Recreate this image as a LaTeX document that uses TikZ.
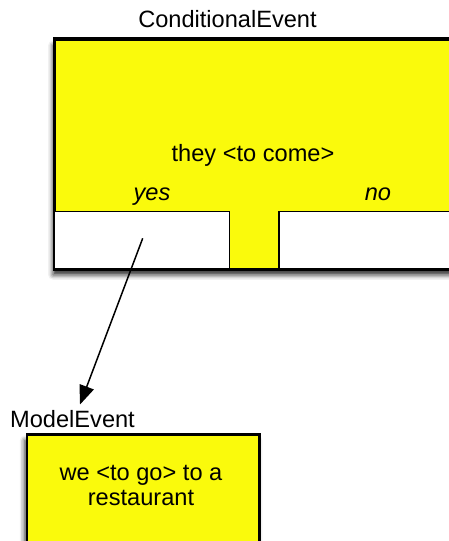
\documentclass[tikz,border=0pt]{standalone}
\usepackage{fontspec}
\setmainfont{Liberation Sans}
\usetikzlibrary{arrows.meta,shadows.blur}
\definecolor{evyellow}{RGB}{250,250,12}
\tikzset{
  txt/.style={inner sep=0pt,font=\fontsize{23.6}{25}\selectfont},
  itxt/.style={txt,font=\fontsize{23.6}{25}\selectfont\itshape},
  evbox/.style={fill=evyellow,draw=black,line width=2.2pt,inner sep=0pt,
     blur shadow={shadow xshift=-2pt,shadow yshift=-6pt,shadow blur radius=5pt,shadow opacity=85}},
  wbox/.style={fill=white,draw=black,line width=1.4pt,inner sep=0pt},
  conn/.style={line width=1.5pt,-{Triangle[length=19pt,width=15pt]}}
}
\begin{document}
\begin{tikzpicture}[x=1pt,y=-1pt]
\useasboundingbox (0,0) rectangle (448,541);
% conditional event
\node[evbox,anchor=north west,minimum width=430pt,minimum height=229.4pt] (cond) at (54,38.3) {};
\node[wbox,anchor=north west,minimum width=175pt,minimum height=57pt] (yesbox) at (54,210.7) {};
\node[wbox,anchor=north west,minimum width=200pt,minimum height=57pt] (nobox) at (278.3,210.7) {};
\draw[line width=2.2pt] (cond.north west) rectangle (cond.south east);
\node[txt,anchor=base] (ctitle) at (227.5,27) {ConditionalEvent};
\node[txt,anchor=base] (ctext) at (253,161) {they <to come>};
\node[itxt,anchor=base] (yes) at (152,200) {yes};
\node[itxt,anchor=base] (no) at (378,200) {no};
% model event
\node[evbox,anchor=north west,minimum width=232.6pt,minimum height=130pt] (model) at (25.7,433.3) {};
\node[txt,anchor=base west] (mtitle) at (10,427) {ModelEvent};
\node[txt,anchor=base] (mtext1) at (141,480) {we <to go> to a};
\node[txt,anchor=base] (mtext2) at (141,505) {restaurant};
% connector
\coordinate (src) at (142.7,238.3);
\coordinate (tip) at (80,404.5);
\draw[conn] (src) -- (tip);
\end{tikzpicture}
\end{document}
